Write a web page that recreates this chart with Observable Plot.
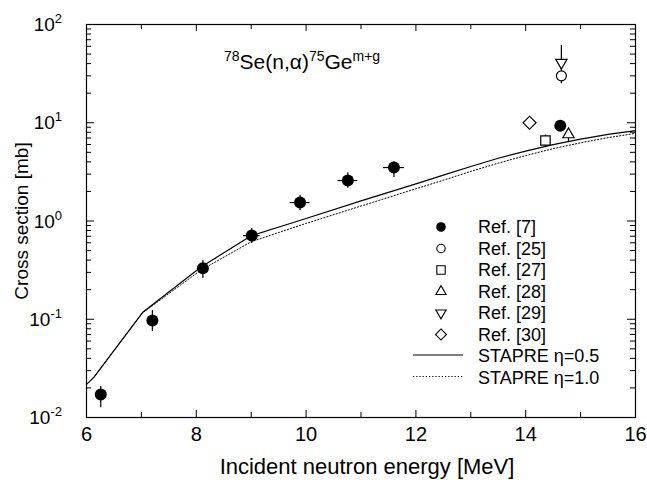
<!DOCTYPE html>
<html><head><meta charset="utf-8">
<script src="https://cdn.jsdelivr.net/npm/d3@7"></script>
<script src="https://cdn.jsdelivr.net/npm/@observablehq/plot@0.6"></script>
<style>
body{margin:0;background:#fff}
svg{font-family:"Liberation Sans",Arial,Helvetica,sans-serif}
</style>
</head><body><div id="chart"></div>
<script>
// ---- Data ----
// Ref. [7] filled circles
const ref7E   = [6.26, 7.20, 8.12, 9.01, 9.89, 10.76, 11.60, 14.63];
const ref7S   = [0.0171, 0.097, 0.33, 0.71, 1.54, 2.58, 3.5, 9.3];
const ref7Lo  = [0.0126, 0.075, 0.26, 0.59, 1.28, 2.15, 2.77, 8.3];
const ref7Hi  = [0.0207, 0.123, 0.397, 0.84, 1.82, 3.1, 4.0, 10.5];
const ref7dE  = [0.08, 0.08, 0.10, 0.15, 0.18, 0.18, 0.19, 0.0];
// other references
const ref25 = {E: 14.65, S: 30, lo: 25, hi: 36};
const ref27 = {E: 14.36, S: 6.6, lo: 5.7, hi: 7.5};
const ref28 = {E: 14.78, S: 7.6, lo: 6.3, hi: 8.8};
const ref29 = {E: 14.65, S: 41, lo: 35, hi: 61};
const ref30 = {E: 14.07, S: 10.0};
// STAPRE calculations
const stapreE   = [6.0, 6.13, 7.02, 8.08, 9.0, 10.0, 11.0, 12.0, 12.5, 13.0, 13.5, 14.0, 14.5, 15.0, 15.5, 16.0];
const stapre05  = [0.0217, 0.0255, 0.117, 0.339, 0.706, 1.06, 1.6, 2.39, 2.93, 3.59, 4.35, 5.15, 6.0, 6.8, 7.6, 8.3];
const stapre10  = [0.0217, 0.0255, 0.116, 0.315, 0.615, 0.945, 1.42, 2.13, 2.6, 3.2, 3.88, 4.63, 5.45, 6.25, 7.05, 7.8];
// ticks
const xLabelTicks = [6, 8, 10, 12, 14, 16];
const xMinor = [7, 9, 11, 13, 15];
const yDecades = [0.01, 0.1, 1, 10, 100];
const yExp = ["-2", "-1", "0", "1", "2"];
const legendLabels = ["Ref. [7]", "Ref. [25]", "Ref. [27]", "Ref. [28]", "Ref. [29]", "Ref. [30]", "STAPRE η=0.5", "STAPRE η=1.0"];

// ---- tables ----
const ref7 = ref7E.map((E, i) => ({E, S: ref7S[i], lo: ref7Lo[i], hi: ref7Hi[i], dE: ref7dE[i]}));
const others = [ref25, ref27, ref28, ref29];
const curve05 = stapreE.map((E, i) => ({E, S: stapre05[i]}));
const curve10 = stapreE.map((E, i) => ({E, S: stapre10[i]}));
const yMinor = [];
for (const d of [0.01, 0.1, 1, 10]) for (let k = 2; k <= 9; k++) yMinor.push(d * k);

const W = 647, H = 480, mL = 86, mR = 12, mT = 24, mB = 63;
const pw = W - mL - mR, ph = H - mT - mB;

const plot = Plot.plot({
  width: W, height: H,
  marginLeft: mL, marginRight: mR, marginTop: mT, marginBottom: mB,
  x: {domain: [6, 16], axis: null},
  y: {type: "log", domain: [0.01, 100], axis: null},
  style: {background: "white", color: "black"},
  marks: [
    // ticks (inward) on all four sides
    Plot.tickX(xLabelTicks, {x: d => d, insetTop: ph - 7, stroke: "black"}),
    Plot.tickX(xMinor, {x: d => d, insetTop: ph - 5, stroke: "black"}),
    Plot.tickX(xLabelTicks, {x: d => d, insetBottom: ph - 7, stroke: "black"}),
    Plot.tickX(xMinor, {x: d => d, insetBottom: ph - 5, stroke: "black"}),
    Plot.tickY(yDecades, {y: d => d, insetRight: pw - 8, stroke: "black"}),
    Plot.tickY(yMinor, {y: d => d, insetRight: pw - 5, stroke: "black"}),
    Plot.tickY(yDecades, {y: d => d, insetLeft: pw - 8, stroke: "black"}),
    Plot.tickY(yMinor, {y: d => d, insetLeft: pw - 5, stroke: "black"}),
    // curves
    Plot.line(curve05, {x: "E", y: "S", stroke: "black", strokeWidth: 1.2}),
    Plot.line(curve10, {x: "E", y: "S", stroke: "black", strokeWidth: 1, strokeDasharray: "1.2,2"}),
    // error bars
    Plot.ruleX(ref7, {x: "E", y1: "lo", y2: "hi", stroke: "black", strokeWidth: 1.2}),
    Plot.ruleY(ref7.filter(d => d.dE > 0), {y: "S", x1: d => d.E - d.dE, x2: d => d.E + d.dE, stroke: "black", strokeWidth: 1.2}),
    Plot.ruleX(others, {x: "E", y1: "lo", y2: "hi", stroke: "black", strokeWidth: 1.2}),
    // symbols
    Plot.dot(ref7, {x: "E", y: "S", r: 6, fill: "black", stroke: "none"}),
    Plot.dot([ref25], {x: "E", y: "S", r: 5, fill: "white", stroke: "black", strokeWidth: 1.2}),
    Plot.dot([ref27], {x: "E", y: "S", r: 5.3, symbol: "square", fill: "white", stroke: "black", strokeWidth: 1.2}),
    Plot.dot([ref28], {x: "E", y: "S", r: 4.2, symbol: "triangle", fill: "white", stroke: "black", strokeWidth: 1.2}),
    Plot.dot([ref29], {x: "E", y: "S", r: 4.2, symbol: "triangle", rotate: 180, fill: "white", stroke: "black", strokeWidth: 1.2}),
    Plot.dot([ref30], {x: "E", y: "S", r: 5.2, symbol: "square", rotate: 45, fill: "white", stroke: "black", strokeWidth: 1.2}),
    // x tick labels
    Plot.text(xLabelTicks, {x: d => d, text: d => String(d), frameAnchor: "bottom", dy: 23, fontSize: 20, fill: "black"}),
    Plot.frame({stroke: "black", strokeWidth: 1.2})
  ]
});

document.getElementById("chart").appendChild(plot);
const svg = d3.select(plot);
const ys = plot.scale("y");
const FF = '"Liberation Sans",Arial,Helvetica,sans-serif';

// y tick labels with superscripts
yDecades.forEach((v, i) => {
  const t = svg.append("text").attr("x", 62).attr("y", ys.apply(v) + 7)
    .attr("text-anchor", "end").attr("fill", "black").style("font-family", FF);
  t.append("tspan").attr("font-size", 19).text("10");
  t.append("tspan").attr("font-size", 13).attr("dy", -8).text(yExp[i]);
});

// axis titles
svg.append("text").attr("x", 367).attr("y", 474).attr("text-anchor", "middle")
  .attr("font-size", 22).attr("fill", "black").style("font-family", FF)
  .text("Incident neutron energy [MeV]");
svg.append("text").attr("transform", "translate(28,221) rotate(-90)").attr("text-anchor", "middle")
  .attr("font-size", 19).attr("fill", "black").style("font-family", FF)
  .text("Cross section [mb]");

// reaction title
const title = svg.append("text").attr("x", 224).attr("y", 69).attr("text-anchor", "start")
  .attr("fill", "black").style("font-family", FF);
title.append("tspan").attr("font-size", 14).attr("dy", -8).text("78");
title.append("tspan").attr("font-size", 21).attr("dy", 8).text("Se(n,α)");
title.append("tspan").attr("font-size", 14).attr("dy", -8).text("75");
title.append("tspan").attr("font-size", 21).attr("dy", 8).text("Ge");
title.append("tspan").attr("font-size", 14).attr("dy", -8).text("m+g");

// legend
const lg = svg.append("g").style("font-family", FF).attr("text-anchor", "start");
const rowY = i => 227 + i * 21.5;
const mx = 441, tx = 478;
const sym = (type, size) => d3.symbol(type, size)();
lg.append("circle").attr("cx", mx).attr("cy", rowY(0)).attr("r", 4.8).attr("fill", "black");
lg.append("circle").attr("cx", mx).attr("cy", rowY(1)).attr("r", 4.2).attr("fill", "white").attr("stroke", "black").attr("stroke-width", 1.1);
lg.append("path").attr("d", sym(d3.symbolSquare, 70)).attr("transform", `translate(${mx},${rowY(2)})`).attr("fill", "white").attr("stroke", "black").attr("stroke-width", 1.1);
lg.append("path").attr("d", sym(d3.symbolTriangle, 45)).attr("transform", `translate(${mx},${rowY(3)})`).attr("fill", "white").attr("stroke", "black").attr("stroke-width", 1.1);
lg.append("path").attr("d", sym(d3.symbolTriangle, 45)).attr("transform", `translate(${mx},${rowY(4)}) rotate(180)`).attr("fill", "white").attr("stroke", "black").attr("stroke-width", 1.1);
lg.append("path").attr("d", sym(d3.symbolSquare, 60)).attr("transform", `translate(${mx},${rowY(5)}) rotate(45)`).attr("fill", "white").attr("stroke", "black").attr("stroke-width", 1.1);
lg.append("line").attr("x1", 413).attr("x2", 463).attr("y1", rowY(6) - 1).attr("y2", rowY(6) - 1).attr("stroke", "black").attr("stroke-width", 1.2);
lg.append("line").attr("x1", 413).attr("x2", 463).attr("y1", rowY(7) - 1).attr("y2", rowY(7) - 1).attr("stroke", "black").attr("stroke-width", 1).attr("stroke-dasharray", "1.2,2");
legendLabels.forEach((s, i) => {
  lg.append("text").attr("x", tx).attr("y", rowY(i)).attr("dy", "0.36em").attr("text-anchor", "start")
    .attr("font-size", 18).attr("fill", "black").text(s);
});
</script>
</body></html>
